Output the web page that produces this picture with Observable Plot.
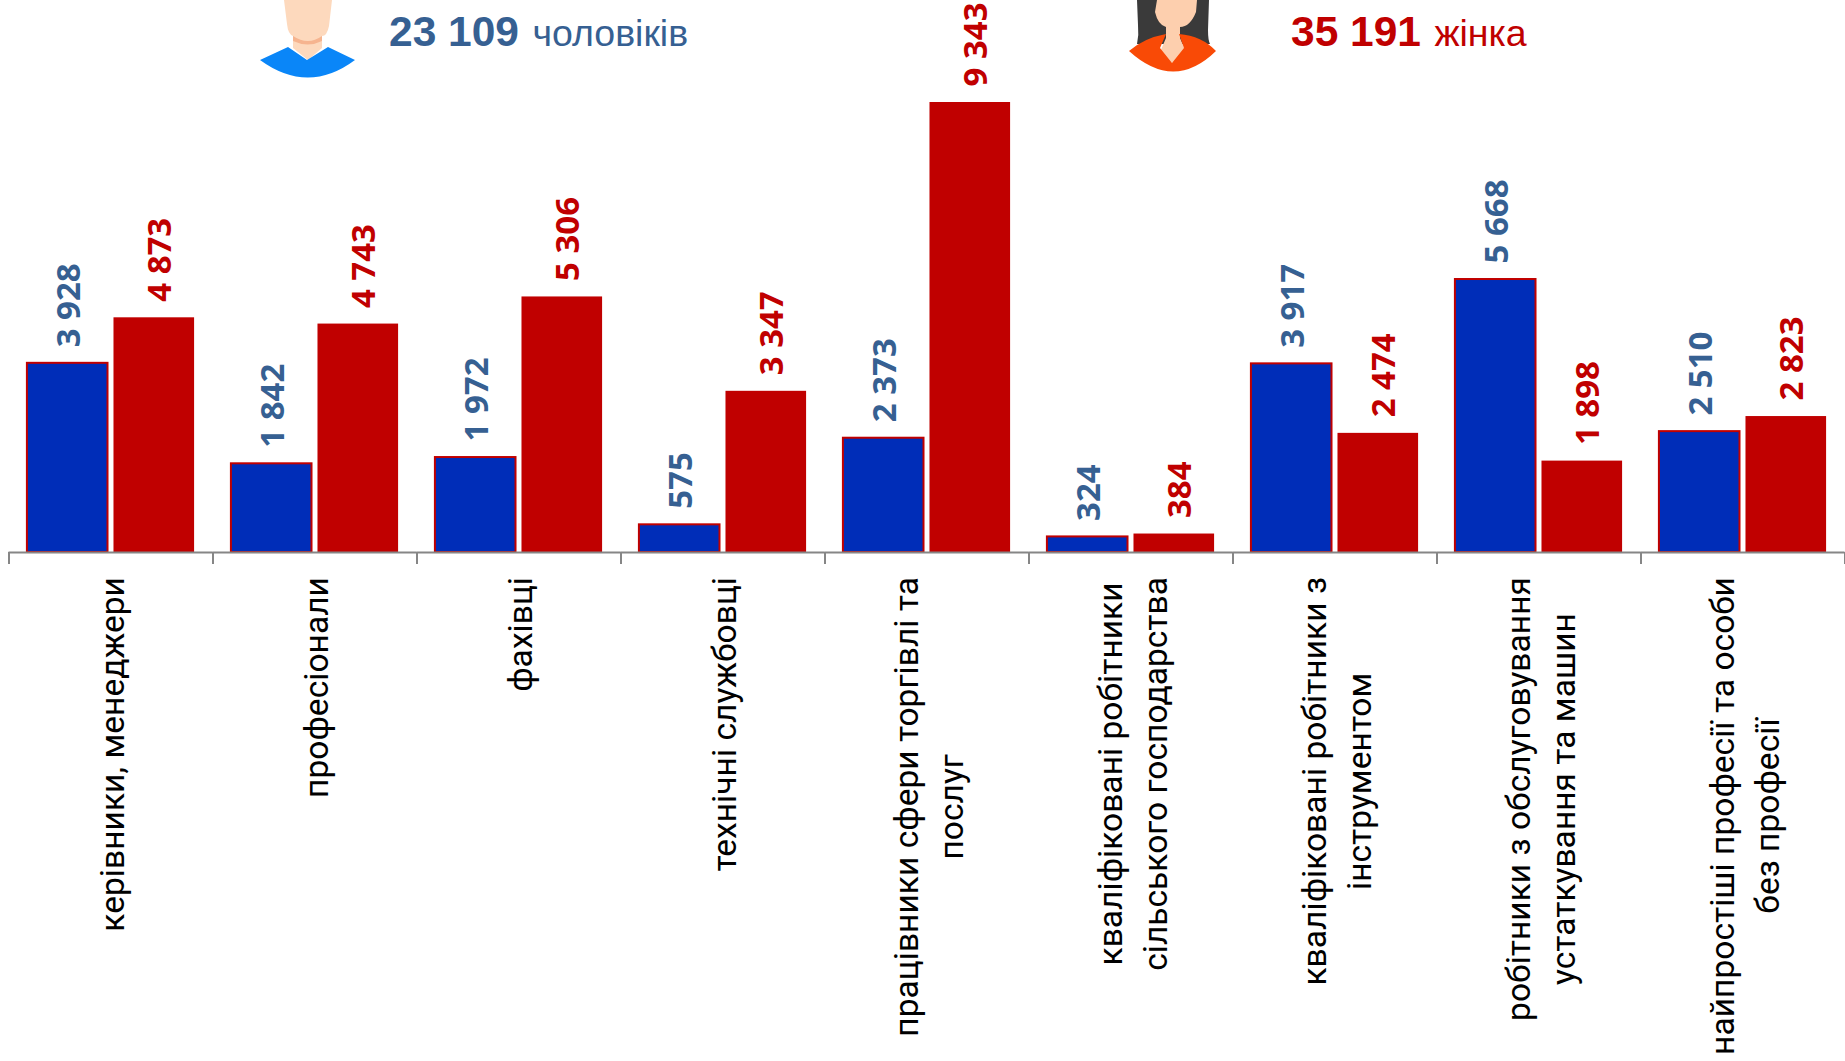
<!DOCTYPE html>
<html lang="uk"><head><meta charset="utf-8">
<script src="https://cdn.jsdelivr.net/npm/d3@7"></script>
<script src="https://cdn.jsdelivr.net/npm/@observablehq/plot@0.6"></script>
<style>
html,body{margin:0;padding:0;background:#fff;overflow:hidden}
#wrap{position:relative;width:1845px;height:1061px}
.hd{position:absolute;top:0;font-family:"Liberation Sans",Arial,sans-serif;white-space:pre;line-height:1;font-size:37.5px}
.hd b{font-size:42.5px;font-weight:700;margin-right:3px}
.icon{position:absolute;top:0;left:0}
</style></head><body>
<div id="wrap">
<svg class="icon" width="1845" height="90" viewBox="0 0 1845 90">
  <path d="M284 0H332L329 26Q327 36 322 36V48L308 60L293 48V36Q288 34 287 24Z" fill="#fdd9bd"/>
  <path d="M293 36Q308 46 322 36V41Q308 48 293 41Z" fill="#f6b48f"/>
  <path d="M260 60L288 47L307 60L328 47L355 60Q308 95 260 60Z" fill="#0a86f8"/>
  <path d="M1137 0H1209L1208 30Q1208 40 1210 44L1137 44Q1139 35 1138 25Z" fill="#3a3a3a"/>
  <path d="M1157 0H1197L1196 12Q1190 27 1180 27V38L1186 52L1172 63L1160 52L1166 38V27Q1158 25 1155 12Z" fill="#fdcfae"/>
  <path d="M1129 51Q1144 38 1166 34L1160 48L1172 63L1184 48L1179 34Q1202 36 1216 51Q1174 92 1129 51Z" fill="#f94a06"/>
</svg>
<div class="hd" style="left:389px;top:11px;color:#366092"><b>23 109</b> чоловіків</div>
<div class="hd" style="left:1291px;top:11px;color:#c00000"><b>35 191</b> жінка</div>
<div id="chart"></div>
</div>
<script>
const categories = [
  "керівники, менеджери","професіонали","фахівці","технічні службовці",
  "працівники сфери торгівлі та\nпослуг","кваліфіковані робітники\nсільського господарства",
  "кваліфіковані робітники з\nінструментом","робітники з обслуговування\nустаткування та машин",
  "найпростіші професії та особи\nбез професії"];
const men   = [3928,1842,1972,575,2373,324,3917,5668,2510];
const women = [4873,4743,5306,3347,9343,384,2474,1898,2823];
const sexes = ["ч","ж"];
const fmt = v => String(v).replace(/\B(?=(\d{3})+$)/g," ");
const rows = categories.flatMap((c,i)=>[
  {c,s:"ч",v:men[i]},{c,s:"ж",v:women[i]}]);
const BLUE="#002db8", RED="#c00000", TXTB="#366092", AXIS="#868686";
const labelFont='Roboto', labelSize=33.6;
const valueFont='"Open Sans"', valueSize=33;
const ctx=document.createElement("canvas").getContext("2d");
ctx.font=`${labelSize}px ${labelFont}`;
const longest=c=>Math.max(...c.split("\n").map(l=>ctx.measureText(l).width));
const labelMarks=categories.map(c=>Plot.text([c],{
  fx:d=>d,x:null,y:()=>0,text:d=>d,rotate:-90,textAnchor:"middle",lineAnchor:"middle",
  dx:-1,dy:24.5+longest(c)/2,fontSize:labelSize,fontFamily:labelFont,fill:"#000",lineHeight:45/labelSize
}));
const valueMark=(s,fill,dx)=>Plot.text(rows.filter(d=>d.s===s),{fx:"c",x:"s",y:"v",text:d=>fmt(d.v),
  rotate:-90,textAnchor:"start",lineAnchor:"middle",dy:-16,dx,fontSize:valueSize,fontWeight:700,fontFamily:valueFont,fill});
const chart=Plot.plot({
  width:1845,height:1061,marginLeft:8.5,marginRight:0.5,marginTop:102,marginBottom:0,
  style:{background:"transparent",overflow:"visible"},
  fx:{domain:categories,padding:0,round:false,axis:null},
  x:{domain:sexes,paddingInner:6/87,paddingOuter:18.5/87,round:false,axis:null},
  y:{domain:[-10567,9343],axis:null},
  marks:[
    Plot.barY(rows,{fx:"c",x:"s",y:"v",fill:d=>d.s==="ч"?BLUE:RED,stroke:d=>d.s==="ч"?RED:"none",strokeWidth:2}),
    Plot.ruleY(categories,{fx:d=>d,y:()=>0,stroke:AXIS,strokeWidth:2}),
    Plot.ruleX(categories,{fx:d=>d,x:null,y1:()=>0,y2:()=>-250,dx:-102,stroke:AXIS,strokeWidth:2}),
    Plot.ruleX(categories.slice(-1),{fx:d=>d,x:null,y1:()=>0,y2:()=>-250,dx:102,stroke:AXIS,strokeWidth:2}),
    valueMark("ч",TXTB,2),
    valueMark("ж",RED,6),
    ...labelMarks
  ]
});
document.getElementById("chart").appendChild(chart);
</script>
</body></html>
